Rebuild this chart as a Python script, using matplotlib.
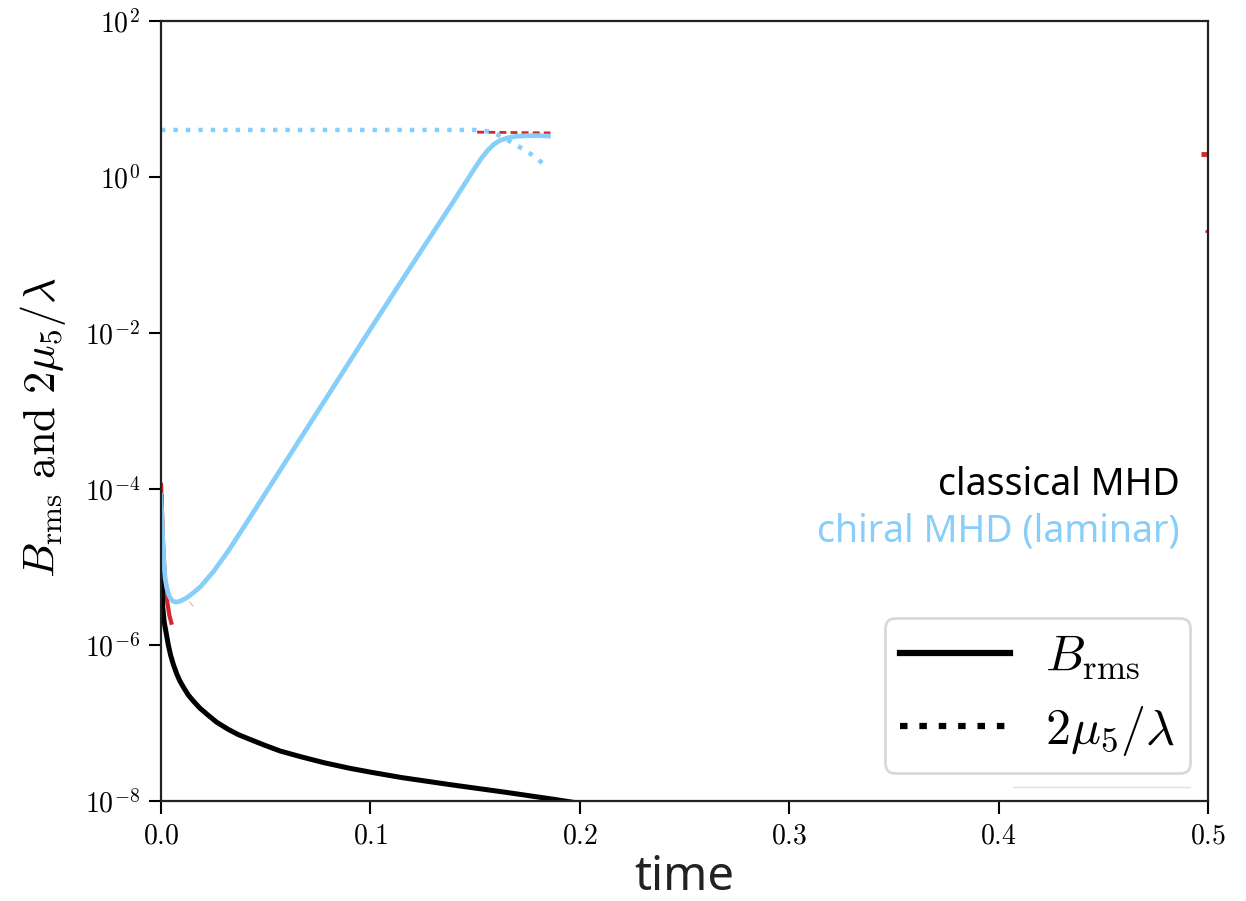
import matplotlib
matplotlib.use("Agg")
import matplotlib.pyplot as plt
import numpy as np
from matplotlib.lines import Line2D
from matplotlib.ticker import FixedLocator, FuncFormatter, NullLocator

plt.rcParams["mathtext.fontset"] = "cm"

# classical MHD: B_rms (log10 values)
t_classical = [0.0, 0.0003, 0.0008, 0.0015, 0.0027, 0.0035, 0.0046, 0.0059, 0.0075,
               0.0090, 0.0107, 0.0130, 0.0155, 0.0186, 0.0225, 0.0266, 0.0320, 0.0370,
               0.0425, 0.0490, 0.0570, 0.0664, 0.0780, 0.0900, 0.1000, 0.1150, 0.1380,
               0.1650, 0.1880, 0.2000]
log_b_classical = [-4.10, -4.80, -5.50, -5.70, -5.88, -6.00, -6.13, -6.25, -6.37,
                   -6.46, -6.54, -6.64, -6.72, -6.81, -6.90, -6.99, -7.08, -7.15,
                   -7.21, -7.28, -7.36, -7.43, -7.51, -7.58, -7.63, -7.70, -7.79,
                   -7.89, -7.98, -8.03]

# chiral MHD (laminar): B_rms
t_chiral = [0.0, 0.0005, 0.0010, 0.0015, 0.0020, 0.0027, 0.0035, 0.0045, 0.0057,
            0.0072, 0.0090, 0.0120, 0.0150, 0.0190, 0.0250, 0.0320, 0.0400, 0.0500,
            0.0600, 0.0800, 0.1000, 0.1200, 0.1400, 0.1450, 0.1500, 0.1530, 0.1560,
            0.1590, 0.1620, 0.1660, 0.1700, 0.1750, 0.1800, 0.1850]
log_b_chiral = [-4.08, -4.40, -4.75, -5.00, -5.15, -5.26, -5.34, -5.40, -5.44,
                -5.45, -5.44, -5.40, -5.34, -5.25, -5.06, -4.80, -4.47, -4.05,
                -3.63, -2.79, -1.95, -1.12, -0.30, -0.09, 0.12, 0.24, 0.34,
                0.42, 0.47, 0.505, 0.522, 0.53, 0.53, 0.525]

# chiral MHD (laminar): 2 mu5 / lambda
t_mu5 = [0.0, 0.152, 0.157, 0.161, 0.165, 0.169, 0.174, 0.178, 0.183, 0.185]
log_mu5 = [0.603, 0.603, 0.58, 0.54, 0.48, 0.42, 0.34, 0.27, 0.16, 0.13]

# short red traces
t_red_start = [0.0, 0.0005, 0.001, 0.002, 0.003, 0.004, 0.0052]
log_red_start = [-3.92, -4.3, -4.7, -5.2, -5.45, -5.62, -5.74]
t_red_top = [0.151, 0.186]
log_red_top = [0.575, 0.565]
t_red_edge = [0.4965, 0.5]
log_red_edge = [0.295, 0.295]
t_red_edge2 = [0.4985, 0.5]
log_red_edge2 = [-0.69, -0.69]
t_red_faint = [0.0138, 0.0152]
log_red_faint = [-5.45, -5.50]

blue = "#87CEFA"
red = "#D62728"

fig = plt.figure(figsize=(12.46, 9.01), dpi=100)
ax = fig.add_axes([0.1292, 0.111, 0.8403, 0.8657])


def pw(v):
    return 10.0 ** np.asarray(v)


ax.plot(t_red_start, pw(log_red_start), color=red, lw=3.0, solid_capstyle="butt")
ax.plot(t_red_top, pw(log_red_top), color=red, lw=2.0, ls=(0, (2.5, 1.5)))
ax.plot(t_red_edge, pw(log_red_edge), color=red, lw=3.5, solid_capstyle="butt")
ax.plot(t_red_edge2, pw(log_red_edge2), color=red, lw=2.0, solid_capstyle="butt")
ax.plot(t_red_faint, pw(log_red_faint), color=red, lw=1.0, alpha=0.3)
ax.plot(t_classical, pw(log_b_classical), color="black", lw=3.6)
ax.plot(t_mu5, pw(log_mu5), color=blue, lw=3.2, ls=(0, (1, 1.8)))
ax.plot(t_chiral, pw(log_b_chiral), color=blue, lw=3.4)

ax.set_yscale("log")
ax.set_xlim(0, 0.5)
ax.set_ylim(1e-8, 1e2)

ax.yaxis.set_major_locator(FixedLocator([1e-8, 1e-6, 1e-4, 1e-2, 1e0, 1e2]))
ax.yaxis.set_minor_locator(NullLocator())
ax.yaxis.set_major_formatter(FuncFormatter(lambda v, p: r"$10^{%d}$" % round(np.log10(v))))
ax.xaxis.set_major_locator(FixedLocator([0.0, 0.1, 0.2, 0.3, 0.4, 0.5]))
ax.xaxis.set_major_formatter(FuncFormatter(lambda v, p: r"$%.1f$" % v))

ax.tick_params(axis="both", which="major", direction="out", length=9, width=1.5,
               labelsize=20, pad=6, colors="black")
for s in ax.spines.values():
    s.set_linewidth(1.6)
    s.set_color("#222222")

ax.set_xlabel("time", family="Noto Sans", fontsize=34, labelpad=3, color="#222222")
ax.set_ylabel(r"$B_{\rm rms}\ \mathrm{and}\ 2\mu_5/\lambda$", fontsize=32)
ax.yaxis.set_label_coords(-0.089, 0.479)

ax.text(0.973, 0.392, "classical MHD", transform=ax.transAxes, ha="right",
        va="baseline", family="Noto Sans", fontsize=27, color="black")
ax.text(0.973, 0.333, "chiral MHD (laminar)", transform=ax.transAxes, ha="right",
        va="baseline", family="Noto Sans", fontsize=27, color=blue)

handles = [Line2D([], [], color="black", lw=4.5),
           Line2D([], [], color="black", lw=4.5, ls=(0, (1.2, 1.9)))]
leg = ax.legend(handles, [r"$B_{\rm rms}$", r"$2\mu_5/\lambda$"], loc="lower right",
                bbox_to_anchor=(0.983, 0.036), fontsize=36, handlelength=2.2,
                handletextpad=0.7, borderpad=0.3, labelspacing=0.45,
                borderaxespad=0.0, frameon=True, fancybox=True)
leg.get_frame().set_edgecolor("#d0d0d0")
leg.get_frame().set_linewidth(2.0)

fig.add_artist(Line2D([1013 / 1246, 1190 / 1246], [1 - 787 / 901, 1 - 787 / 901],
                      color="#e0e0e0", lw=1.0))

fig.savefig("out.png", dpi=100, facecolor="white")
